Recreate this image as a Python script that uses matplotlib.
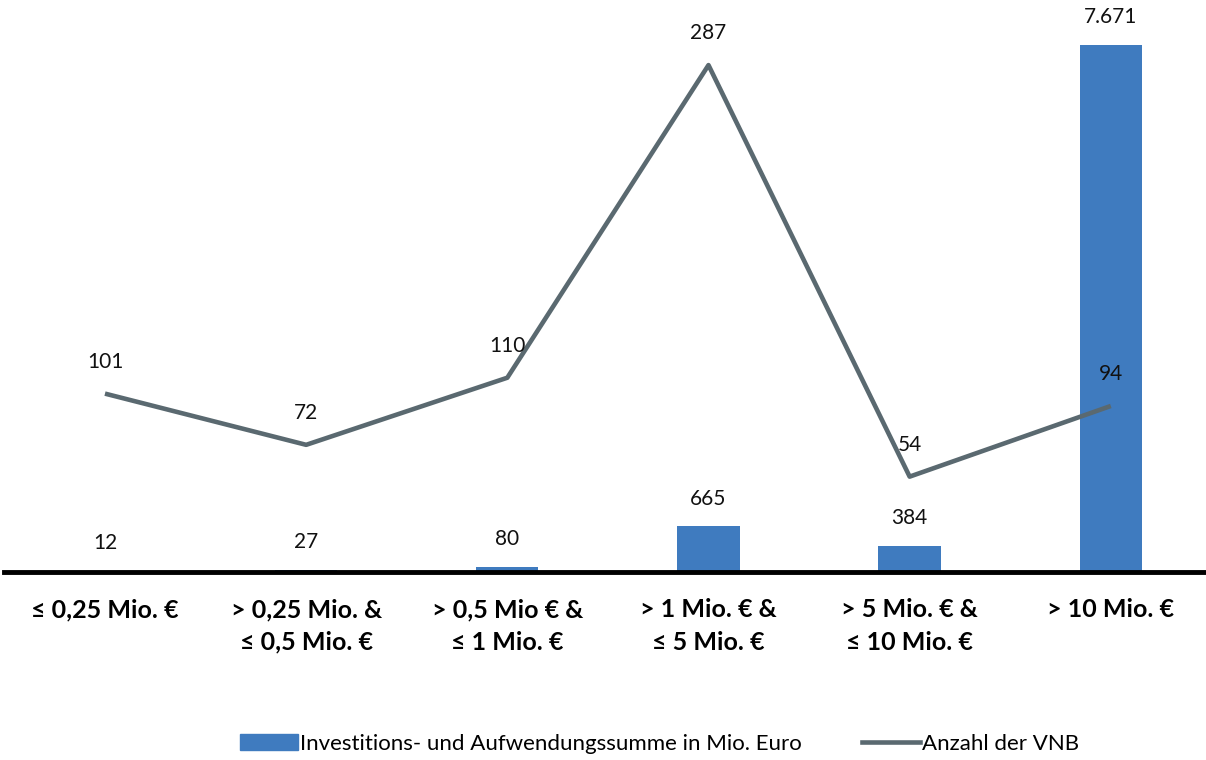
import matplotlib.pyplot as plt
from matplotlib.lines import Line2D
from matplotlib.patches import Patch

categories = ['≤ 0,25 Mio. €', '> 0,25 Mio. &\n≤ 0,5 Mio. €', '> 0,5 Mio € &\n≤ 1 Mio. €',
              '> 1 Mio. € &\n≤ 5 Mio. €', '> 5 Mio. € &\n≤ 10 Mio. €', '> 10 Mio. €']
invest = [12, 27, 80, 665, 384, 7671]
invest_labels = ['12', '27', '80', '665', '384', '7.671']
vnb = [101, 72, 110, 287, 54, 94]

bar_color = '#3f7bbf'
line_color = '#5a6970'
plt.rcParams['font.family'] = ['Lato', 'DejaVu Sans']

fig = plt.figure(figsize=(12.06, 7.6), dpi=100)
ax = fig.add_axes([4.4 / 1206, 188 / 760, 1207 / 1206, 562 / 760])
x = list(range(len(categories)))

ax.bar(x, invest, width=0.31, color=bar_color, zorder=2)
ax.set_ylim(0, 8181)
ax.set_xlim(-0.5, 5.5)
for xi, v, lab in zip(x, invest, invest_labels):
    ax.annotate(lab, (xi, v), xytext=(0, 20), textcoords='offset points',
                ha='center', va='center', fontsize=15, color='#111111')

ax2 = ax.twinx()
ax2.plot(x, vnb, color=line_color, linewidth=3.3, solid_capstyle='butt', zorder=3)
ax2.set_ylim(0, 318.2)
for xi, v in zip(x, vnb):
    ax2.annotate(str(v), (xi, v), xytext=(0, 23), textcoords='offset points',
                 ha='center', va='center', fontsize=15, color='#111111')

for a in (ax, ax2):
    for s in ('top', 'right', 'left'):
        a.spines[s].set_visible(False)
    a.set_yticks([])
ax2.spines['bottom'].set_visible(False)
ax.spines['bottom'].set_linewidth(3.5)
ax.spines['bottom'].set_color('black')
ax.set_xticks(x)
ax.set_xticklabels(categories, fontsize=18, fontweight='bold', linespacing=1.5)
ax.tick_params(axis='x', length=0, pad=19)

handles = [Patch(color=bar_color), Line2D([0], [0], color=line_color, linewidth=3.3)]
fig.legend(handles, ['Investitions- und Aufwendungssumme in Mio. Euro', 'Anzahl der VNB'],
           loc='center', bbox_to_anchor=(0.547, 1 - 744 / 760), ncol=2, frameon=False,
           fontsize=16, handlelength=2.6, handletextpad=0.1, columnspacing=2.7)

fig.savefig('out.png', dpi=100)
